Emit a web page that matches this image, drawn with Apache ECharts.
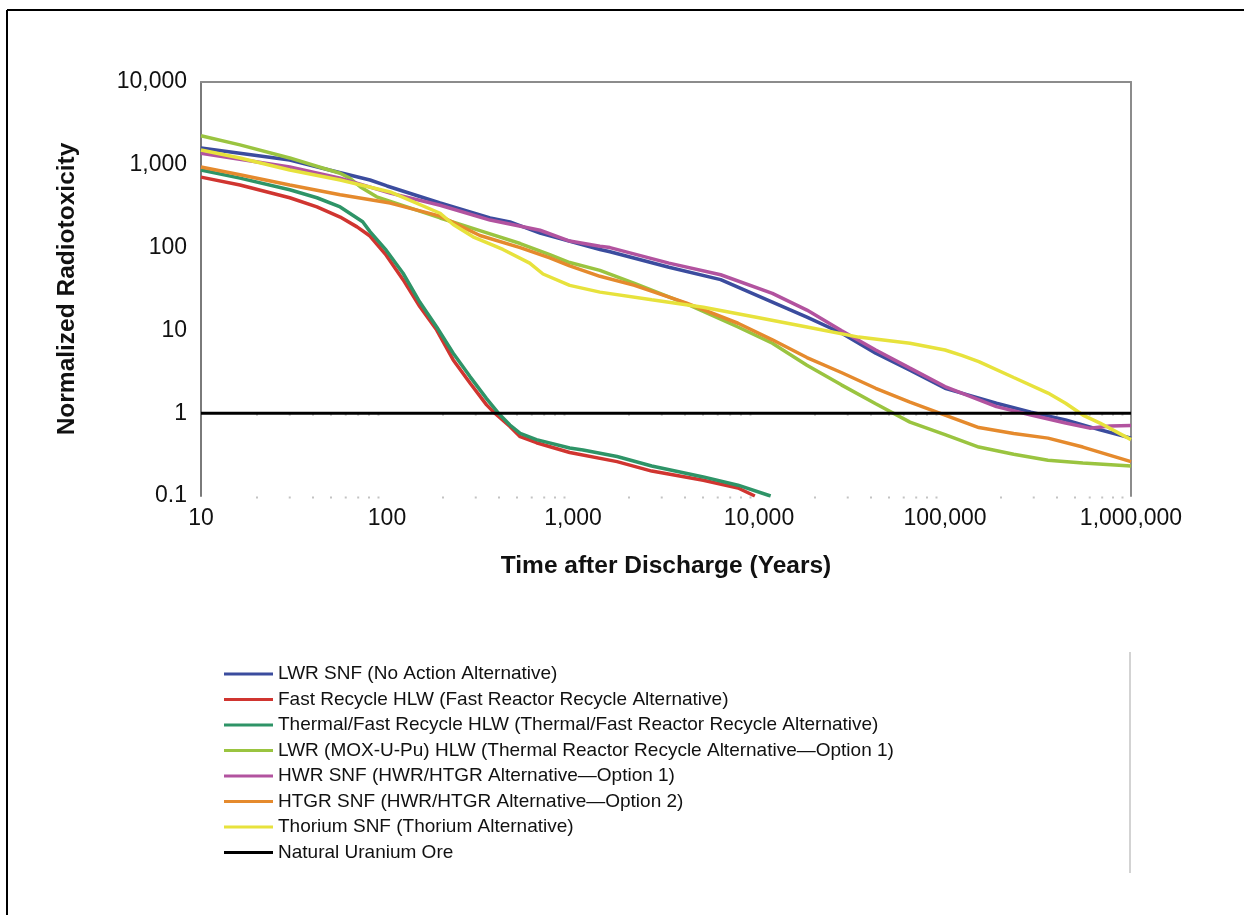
<!DOCTYPE html>
<html>
<head>
<meta charset="utf-8">
<script src="https://cdn.jsdelivr.net/npm/echarts@6/dist/echarts.min.js"></script>
<style>
html,body{margin:0;padding:0;background:#fff;}
#chart{width:1244px;height:915px;}
</style>
</head>
<body>
<div id="chart"></div>
<script>
// ---- Data (time in years, normalized radiotoxicity) ----
const lwrSnf = [[10,1600],[30,1140],[49,865],[81,655],[100,555],[193,346],[358,228],[458,204],[665,150],[1234,102],[1396,95],[1580,89],[3280,58],[6220,41],[11800,22],[18100,14.5],[27700,9.3],[42400,5.3],[64800,3.3],[100000,2.0],[123000,1.75],[189000,1.32],[290000,1.03],[445000,0.83],[681000,0.63],[1000000,0.5]];
const fastHlw = [[10,710],[16.2,570],[30,400],[42,310],[56,234],[69,178],[81,138],[99,81],[122,41],[150,19.4],[185,10.1],[227,4.4],[280,2.3],[343,1.26],[380,1.0],[458,0.69],[520,0.52],[636,0.44],[960,0.335],[1725,0.26],[2650,0.2],[5020,0.155],[7710,0.125],[9500,0.1]];
const thermalFastHlw = [[10,865],[16.2,690],[30,500],[42,400],[56,310],[74,205],[81,156],[99,93],[122,49],[150,22],[185,11],[227,5.3],[280,2.75],[343,1.5],[397,1.0],[458,0.72],[520,0.57],[636,0.48],[960,0.38],[1132,0.36],[1725,0.3],[2650,0.23],[5020,0.17],[7710,0.135],[11550,0.1]];
const lwrMoxHlw = [[10,2240],[16.2,1740],[30,1210],[45,915],[56,790],[63,690],[72,540],[88,410],[128,310],[193,228],[316,160],[520,112],[750,82],[960,66],[1396,53],[2141,37],[4050,21],[7710,11],[11800,7.0],[18100,3.8],[27700,2.2],[42400,1.3],[64800,0.78],[100000,0.55],[152000,0.39],[234000,0.32],[358000,0.27],[551000,0.25],[1000000,0.23]];
const hwrSnf = [[10,1380],[30,940],[56,690],[104,455],[193,325],[358,215],[665,162],[960,120],[1396,104],[1580,100],[3280,65],[6220,47],[11800,28],[18100,17.6],[27700,10],[42400,5.8],[64800,3.5],[100000,2.1],[189000,1.2],[290000,0.95],[445000,0.76],[600000,0.66],[771000,0.7],[1000000,0.71]];
const htgrSnf = [[10,940],[16.2,760],[30,570],[56,435],[104,345],[193,240],[316,140],[520,100],[750,75],[960,60],[1396,45],[2141,35],[4050,21.5],[7710,12.2],[11800,7.7],[18100,4.7],[27700,3.1],[42400,2.0],[64800,1.36],[100000,0.95],[152000,0.67],[234000,0.57],[358000,0.5],[551000,0.39],[1000000,0.26]];
const thoriumSnf = [[10,1510],[16.2,1210],[30,865],[56,655],[104,470],[193,260],[227,190],[290,135],[420,95],[585,65],[690,48],[960,35],[1396,29],[2650,23.4],[5020,19],[9510,14.5],[18100,11],[34300,8.3],[64800,7.0],[100000,5.8],[123000,5.0],[152000,4.2],[234000,2.7],[358000,1.75],[445000,1.32],[551000,0.95],[681000,0.76],[1000000,0.48]];
const uraniumOre = [[10,1],[1000000,1]];
const minorTickTimes = [20,30,40,50,60,70,80,90,200,300,400,500,600,700,800,900,2000,3000,4000,5000,6000,7000,8000,9000,20000,30000,40000,50000,60000,70000,80000,90000,200000,300000,400000,500000,600000,700000,800000,900000];
const minorTickLevels = [0.1, 1];

const seriesNames = [
  'LWR SNF (No Action Alternative)',
  'Fast Recycle HLW (Fast Reactor Recycle Alternative)',
  'Thermal/Fast Recycle HLW (Thermal/Fast Reactor Recycle Alternative)',
  'LWR (MOX-U-Pu) HLW (Thermal Reactor Recycle Alternative\u2014Option 1)',
  'HWR SNF (HWR/HTGR Alternative\u2014Option 1)',
  'HTGR SNF (HWR/HTGR Alternative\u2014Option 2)',
  'Thorium SNF (Thorium Alternative)',
  'Natural Uranium Ore'
];
const seriesData = [lwrSnf, fastHlw, thermalFastHlw, lwrMoxHlw, hwrSnf, htgrSnf, thoriumSnf, uraniumOre];
const seriesColors = ['#3B4C9E','#D03530','#2E9467','#9AC440','#B2539F','#E58A2D','#E7E23C','#000000'];

const FONT = "'Liberation Sans', Arial, Helvetica, sans-serif";
function fmt(v){
  const r = parseFloat(Number(v).toPrecision(6));
  return r >= 1 ? r.toLocaleString('en-US') : String(r);
}

const minorDots = [];
minorTickLevels.forEach(l => minorTickTimes.forEach(t => minorDots.push([t, l])));

const lineSeries = seriesNames.map((n, i) => ({
  name: n,
  type: 'line',
  data: seriesData[i],
  showSymbol: false,
  symbol: 'none',
  smooth: false,
  clip: true,
  z: i === 7 ? 5 : 3,
  lineStyle: { color: seriesColors[i], width: i === 7 ? 3 : 3.5 },
  itemStyle: { color: seriesColors[i] },
  emphasis: { disabled: true }
}));

const option = {
  animation: false,
  backgroundColor: '#ffffff',
  grid: { left: 201, top: 82, width: 930, height: 414, containLabel: false },
  legend: {
    data: seriesNames,
    orient: 'vertical',
    left: 224,
    top: 664,
    padding: 0,
    itemGap: 5.5,
    icon: 'rect',
    itemWidth: 49,
    itemHeight: 3,
    textStyle: { fontFamily: FONT, fontSize: 19, color: '#111', lineHeight: 20 }
  },
  xAxis: [{
    type: 'log', logBase: 10, min: 10, max: 1000000,
    position: 'bottom',
    axisLine: { show: false },
    axisTick: { show: false },
    splitLine: { show: false },
    axisLabel: { margin: 11, fontFamily: FONT, fontSize: 23, color: '#111', formatter: fmt },
    name: 'Time after Discharge (Years)',
    nameLocation: 'middle',
    nameGap: 58,
    nameTextStyle: { fontFamily: FONT, fontSize: 24.5, fontWeight: 'bold', color: '#111' }
  }, {
    type: 'log', logBase: 10, min: 10, max: 1000000,
    position: 'top',
    axisLine: { show: true, lineStyle: { color: '#8c8c8c', width: 2 } },
    axisTick: { show: false }, axisLabel: { show: false }, splitLine: { show: false }
  }],
  yAxis: [{
    type: 'log', logBase: 10, min: 0.1, max: 10000,
    position: 'left',
    axisLine: { show: true, lineStyle: { color: '#7a7a7a', width: 2 } },
    axisTick: { show: false },
    splitLine: { show: false },
    axisLabel: { margin: 14, fontFamily: FONT, fontSize: 23, color: '#111', formatter: fmt },
    name: 'Normalized Radiotoxicity',
    nameLocation: 'middle',
    nameGap: 121,
    nameTextStyle: { fontFamily: FONT, fontSize: 24.5, fontWeight: 'bold', color: '#111' }
  }, {
    type: 'log', logBase: 10, min: 0.1, max: 10000,
    position: 'right',
    axisLine: { show: true, lineStyle: { color: '#8c8c8c', width: 2 } },
    axisTick: { show: false }, axisLabel: { show: false }, splitLine: { show: false }
  }],
  series: [{
    name: 'minorTicks',
    type: 'scatter',
    data: minorDots,
    symbol: 'rect',
    symbolSize: 2,
    symbolOffset: [0, 1.5],
    itemStyle: { color: '#b4b4b4' },
    silent: true,
    z: 1,
    clip: false
  }].concat(lineSeries),
  graphic: [
    { type: 'line', shape: { x1: 7, y1: 10, x2: 1244, y2: 10 }, style: { stroke: '#000', lineWidth: 2 } },
    { type: 'line', shape: { x1: 7, y1: 10, x2: 7, y2: 915 }, style: { stroke: '#000', lineWidth: 2 } },
    { type: 'line', shape: { x1: 1130, y1: 652, x2: 1130, y2: 873 }, style: { stroke: '#c4c4c4', lineWidth: 1.5 } }
  ]
};

const chart = echarts.init(document.getElementById('chart'), null, { renderer: 'canvas' });
chart.setOption(option);
</script>
</body>
</html>
